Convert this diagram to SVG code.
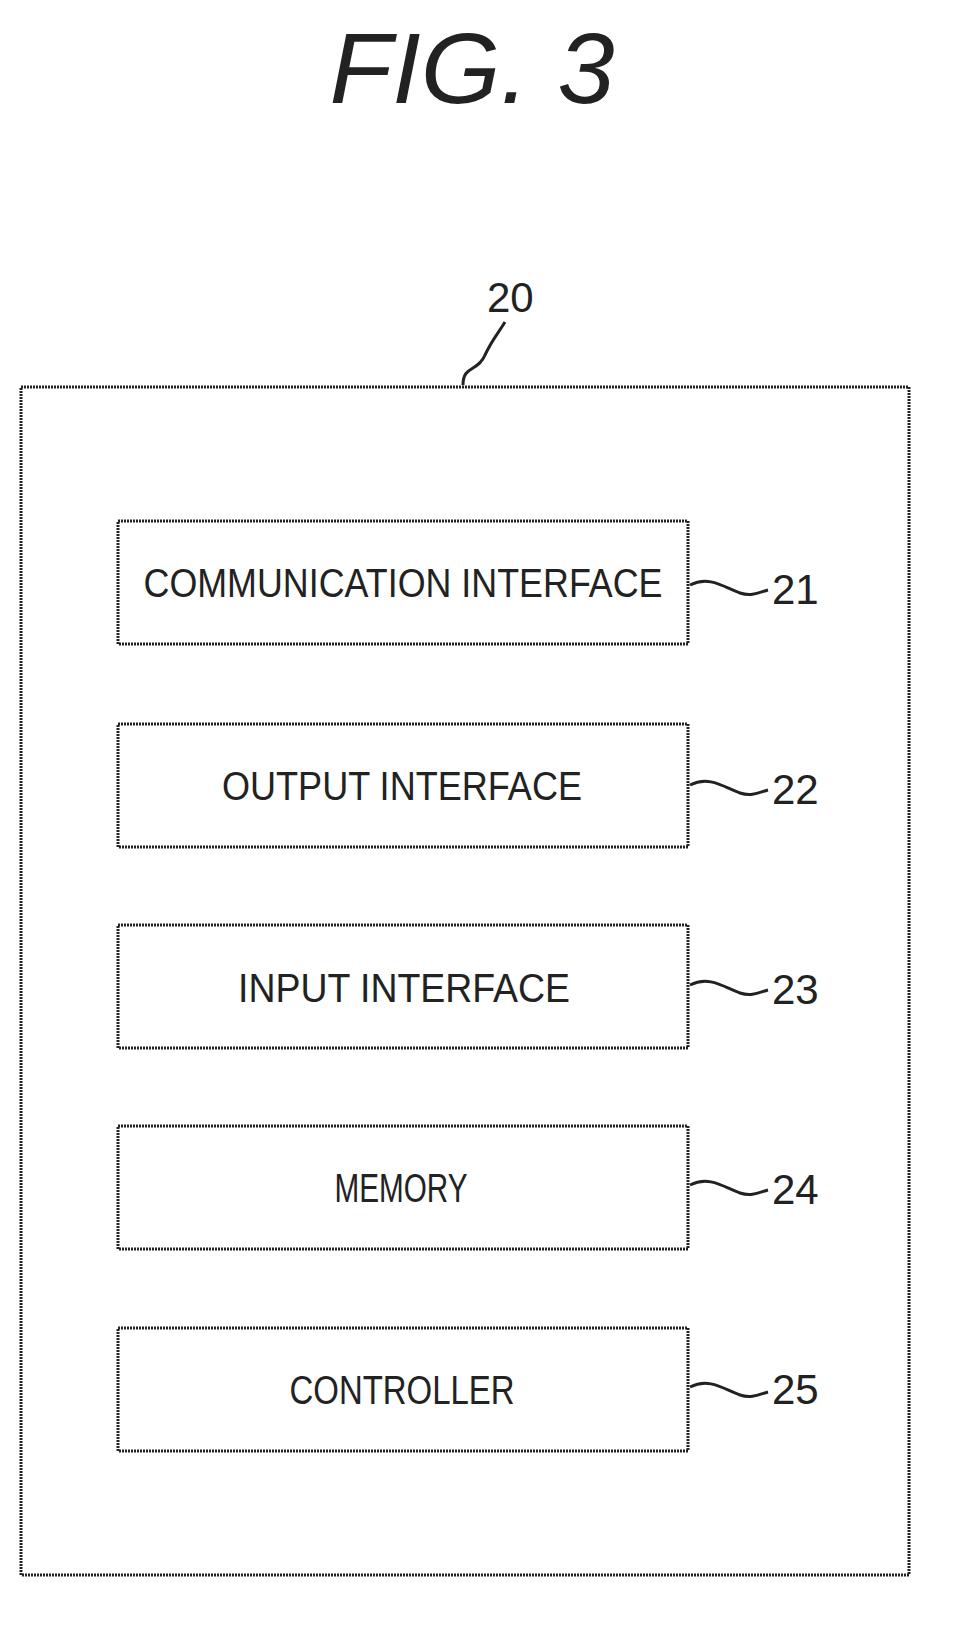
<svg xmlns="http://www.w3.org/2000/svg" width="968" height="1630" viewBox="0 0 968 1630">
<style>
.box{fill:none;stroke:#222;stroke-width:3;stroke-dasharray:2 1}
.t{font-family:"Liberation Sans",sans-serif;font-size:40px;fill:#222;text-anchor:middle}
.n{font-family:"Liberation Sans",sans-serif;font-size:42px;fill:#222}
.l{fill:none;stroke:#222;stroke-width:3}
</style>
<rect width="968" height="1630" fill="#fff"/>
<text x="472" y="103" font-family="Liberation Sans,sans-serif" font-style="italic" font-size="100" fill="#222" text-anchor="middle" textLength="285" lengthAdjust="spacingAndGlyphs">FIG. 3</text>
<g id="n20"><rect class="box" x="21" y="387" width="888" height="1188"/><text class="n" x="487" y="312">20</text></g>
<g id="n21"><rect class="box" x="118" y="521" width="570" height="123"/><text class="t" x="403" y="597" textLength="519" lengthAdjust="spacingAndGlyphs">COMMUNICATION INTERFACE</text><text class="n" x="772" y="604">21</text></g>
<g id="n22"><rect class="box" x="118" y="724" width="570" height="123"/><text class="t" x="402" y="800" textLength="360" lengthAdjust="spacingAndGlyphs">OUTPUT INTERFACE</text><text class="n" x="772" y="804">22</text></g>
<g id="n23"><rect class="box" x="118" y="925" width="570" height="123"/><text class="t" x="404" y="1002" textLength="332" lengthAdjust="spacingAndGlyphs">INPUT INTERFACE</text><text class="n" x="772" y="1004">23</text></g>
<g id="n24"><rect class="box" x="118" y="1126" width="570" height="123"/><text class="t" x="401" y="1202" textLength="133" lengthAdjust="spacingAndGlyphs">MEMORY</text><text class="n" x="772" y="1204">24</text></g>
<g id="n25"><rect class="box" x="118" y="1328" width="570" height="123"/><text class="t" x="402" y="1404" textLength="225" lengthAdjust="spacingAndGlyphs">CONTROLLER</text><text class="n" x="772" y="1404">25</text></g>
<g id="connectors">
<path class="l" d="M463 385 C463 365 478 372 485 355 C492 340 497 335 505 322"/>
<path class="l" d="M690 585 C710 575 725 588 740 593 C752 597 760 592 768 590"/>
<path class="l" d="M690 785 C710 775 725 788 740 793 C752 797 760 792 768 790"/>
<path class="l" d="M690 985 C710 975 725 988 740 993 C752 997 760 992 768 990"/>
<path class="l" d="M690 1185 C710 1175 725 1188 740 1193 C752 1197 760 1192 768 1190"/>
<path class="l" d="M690 1387 C710 1377 725 1390 740 1395 C752 1399 760 1394 768 1392"/>
</g>
</svg>
